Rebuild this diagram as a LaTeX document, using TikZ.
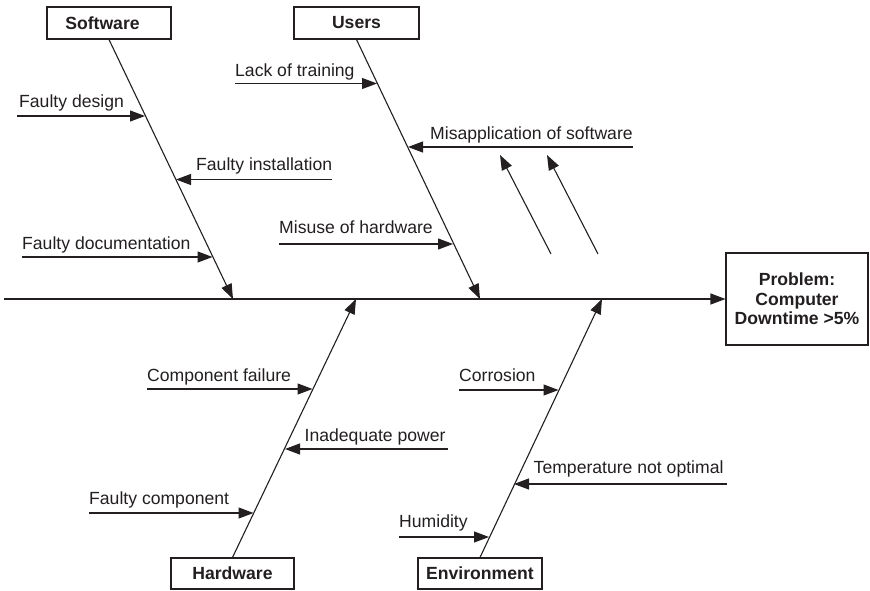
\documentclass[tikz,border=0pt]{standalone}
\usepackage{fontspec}
\setmainfont{Liberation Sans}
\usetikzlibrary{arrows.meta}
\definecolor{ink}{HTML}{231F20}
\begin{document}
\begin{tikzpicture}[x=1pt,y=-1pt,
  every node/.style={text=ink},
  txt/.style={font=\fontsize{17.6}{19.3}\selectfont},
  cat/.style={draw=ink, line width=1.1pt, inner sep=0pt,
    font=\fontsize{17.6}{19.3}\selectfont\bfseries},
  bone/.style={draw=ink, line width=1.1pt,
    -{Triangle[length=15pt,width=11pt]}},
  lbl/.style={txt, anchor=base west, inner sep=0pt}]
\useasboundingbox (0,0) rectangle (870,591);

% category boxes
\node[cat, minimum width=124pt, minimum height=32pt] (software) at (109,23) {\hspace*{-13pt}Software};
\node[cat, minimum width=125pt, minimum height=32pt] (users) at (356.5,23) {Users};
\node[cat, minimum width=123pt, minimum height=31pt] (hardware) at (232.5,573.5) {Hardware};
\node[cat, minimum width=124pt, minimum height=31pt] (environment) at (480,573.5) {Environment};

% effect box
\node[cat, minimum width=142pt, minimum height=92pt, align=center] (problem) at (797,299)
  {Problem:\\Computer\\Downtime >5\%};

% main spine
\coordinate (tail) at (4,299);
\draw[bone] (tail) -- (problem.west);

% category bones meeting the spine
\coordinate (swtip) at (233,299);
\coordinate (ustip) at (480,299);
\coordinate (hwtip) at (356,299);
\coordinate (entip) at (602,299);
\draw[bone] (software.south) -- (swtip);
\draw[bone] (users.south) -- (ustip);
\draw[bone] (hardware.north) -- (hwtip);
\draw[bone] (environment.north) -- (entip);

% causes: name / text / text x / baseline / line start x / line y / tip x
\foreach \name/\words/\tx/\ty/\sx/\ly/\ex in {
  fdesign/Faulty design/19/107.5/17/116/145,
  finstall/Faulty installation/196/170.5/332/179.5/176,
  fdoc/Faulty documentation/22/249/22/257/212.5,
  ltrain/Lack of training/235/77/235/83.5/377,
  misapp/Misapplication of software/430/140/633/147/408,
  misuse/Misuse of hardware/279/233/279/244/453,
  compfail/Component failure/147/381/147/389/312.5,
  inpower/Inadequate power/304.5/441/448/449/285,
  faultycomp/Faulty component/89/504/89/513/253.5,
  corrosion/Corrosion/459/381/459/390/558.5,
  temp/Temperature not optimal/533.5/473.5/727/484/514,
  humidity/Humidity/399/527.5/399/537/489}{
  \node[lbl] (\name) at (\tx,\ty) {\words};
  \coordinate (\name-from) at (\sx,\ly);
  \coordinate (\name-to) at (\ex,\ly);
  \draw[bone] (\name-from) -- (\name-to);
}

% sub-causes feeding the misapplication branch
\coordinate (subA-from) at (551,254);
\coordinate (subA-to) at (500,155);
\coordinate (subB-from) at (598,254);
\coordinate (subB-to) at (547,155);
\draw[bone] (subA-from) -- (subA-to);
\draw[bone] (subB-from) -- (subB-to);
\end{tikzpicture}
\end{document}
